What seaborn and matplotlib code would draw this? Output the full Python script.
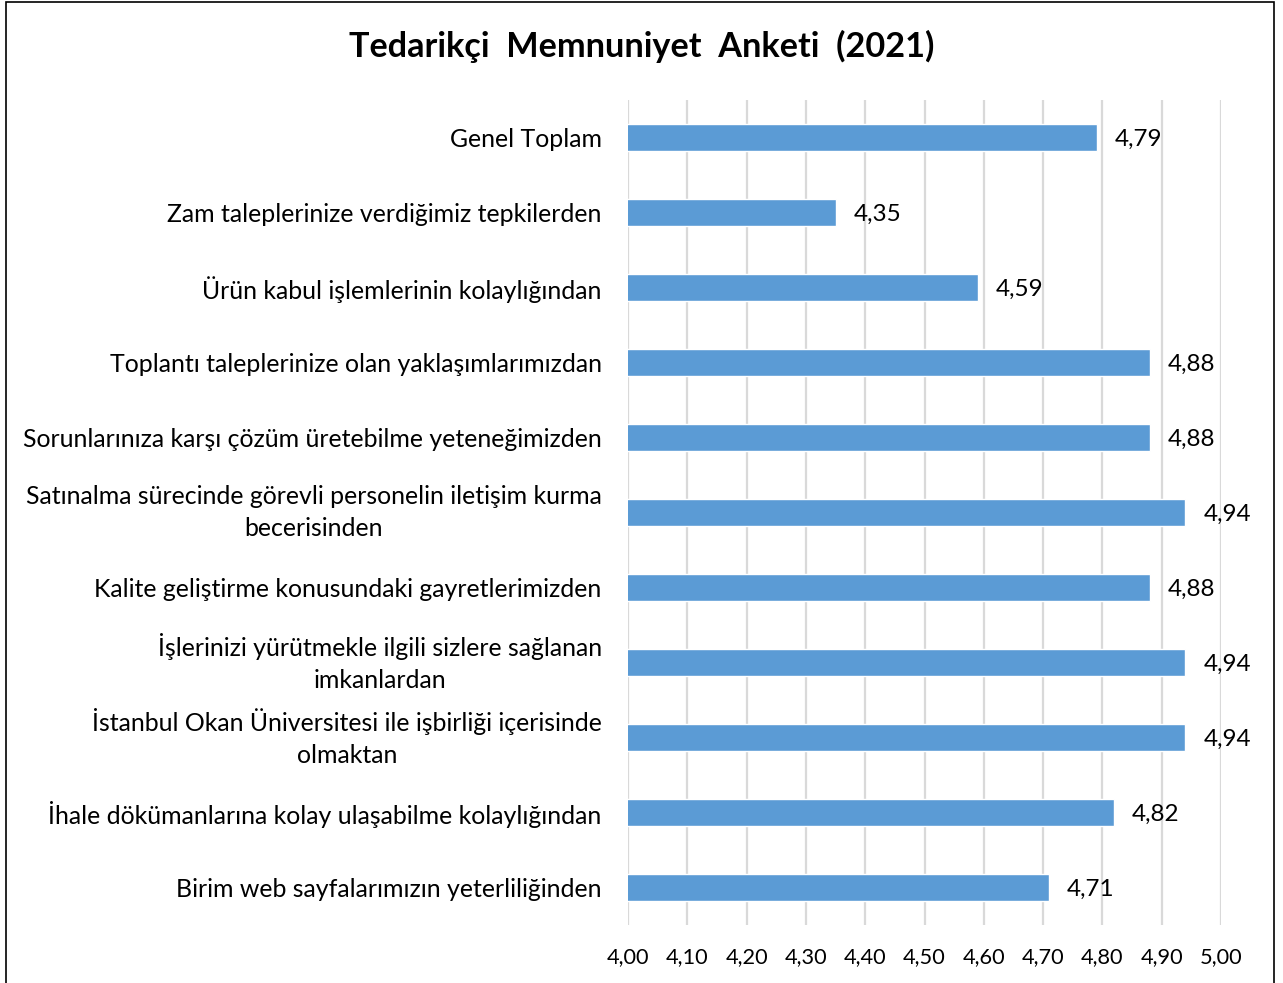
import matplotlib
matplotlib.use("Agg")
import matplotlib.pyplot as plt
import seaborn as sns
import pandas as pd
from matplotlib.ticker import FuncFormatter
from matplotlib.patches import Rectangle

# survey items (top to bottom) and their mean scores
categories = [
    "Genel Toplam",
    "Zam taleplerinize verdiğimiz tepkilerden",
    "Ürün kabul işlemlerinin kolaylığından",
    "Toplantı taleplerinize olan yaklaşımlarımızdan",
    "Sorunlarınıza karşı çözüm üretebilme yeteneğimizden",
    "Satınalma sürecinde görevli personelin iletişim kurma\nbecerisinden",
    "Kalite geliştirme konusundaki gayretlerimizden",
    "İşlerinizi yürütmekle ilgili sizlere sağlanan\nimkanlardan",
    "İstanbul Okan Üniversitesi ile işbirliği içerisinde\nolmaktan",
    "İhale dökümanlarına kolay ulaşabilme kolaylığından",
    "Birim web sayfalarımızın yeterliliğinden",
]
scores = [4.79, 4.35, 4.59, 4.88, 4.88, 4.94, 4.88, 4.94, 4.94, 4.82, 4.71]
x_ticks = [4.0, 4.1, 4.2, 4.3, 4.4, 4.5, 4.6, 4.7, 4.8, 4.9, 5.0]

df = pd.DataFrame({"item": categories, "score": scores})

sns.set_style("white")
plt.rcParams["font.family"] = ["Lato", "DejaVu Sans"]

fig = plt.figure(figsize=(12.83, 9.83), dpi=100)
ax = fig.add_axes([0.4895, 0.059, 0.4622, 0.839])

sns.barplot(data=df, x="score", y="item", orient="h", color="#5B9BD5",
            width=0.36, saturation=1, ax=ax, zorder=3)

ax.set_xlim(4.0, 5.0)
ax.set_xticks(x_ticks)
ax.xaxis.set_major_formatter(FuncFormatter(lambda v, p: f"{v:.2f}".replace(".", ",")))
ax.grid(axis="x", color="#D9D9D9", linewidth=1.6, zorder=0)
ax.set_axisbelow(True)
for s in ax.spines.values():
    s.set_visible(False)
ax.tick_params(axis="x", length=0, pad=16, labelsize=15.7, labelcolor="#000000")
ax.tick_params(axis="y", length=0, pad=19, labelsize=17.9, labelcolor="#000000")
for t in ax.get_yticklabels():
    t.set_multialignment("center")
    t.set_linespacing(1.45)
    if "\n" in t.get_text():
        t.set_verticalalignment("center")
ax.set_xlabel("")
ax.set_ylabel("")

for i, v in enumerate(scores):
    ax.text(v + 0.03, i, f"{v:.2f}".replace(".", ","), va="center_baseline", ha="left",
            fontsize=17.5, color="#000000")

fig.text(0.5, 0.953, "Tedarikçi  Memnuniyet  Anketi  (2021)", ha="center", va="center",
         fontsize=24.7, fontweight="bold", color="#000000")

fig.patches.append(Rectangle((0.0045, -0.01), 0.9885, 1.008, transform=fig.transFigure,
                             fill=False, edgecolor="#000000", linewidth=1.2))

fig.savefig("out.png", dpi=100, facecolor="white")
